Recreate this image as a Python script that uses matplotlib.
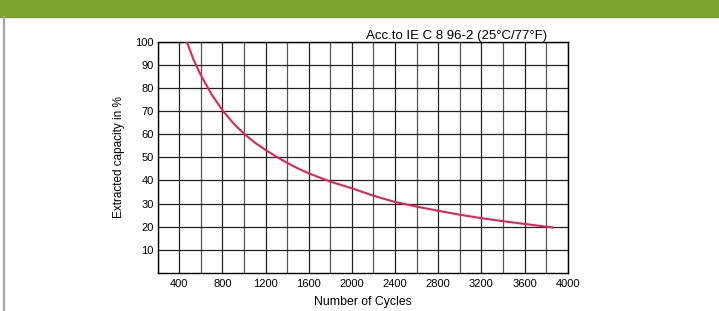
import matplotlib.pyplot as plt
from matplotlib.patches import Rectangle
from matplotlib.lines import Line2D

# === Dati ===
cycles = [470, 530, 600, 700, 800, 900, 1000, 1100, 1200, 1300, 1400, 1500,
          1600, 1800, 2000, 2200, 2400, 2600, 2800, 3000, 3200, 3400, 3600, 3855]
capacity = [100, 92.5, 85.5, 77.2, 70.4, 64.8, 60.2, 56.4, 53.2, 50.3, 47.6, 45.2,
            43.1, 39.5, 36.6, 33.4, 30.7, 28.7, 26.9, 25.2, 23.7, 22.4, 21.2, 19.7]
x_ticks = [400, 800, 1200, 1600, 2000, 2400, 2800, 3200, 3600, 4000]
y_ticks = [10, 20, 30, 40, 50, 60, 70, 80, 90, 100]

plt.rcParams["font.family"] = ["Liberation Sans", "DejaVu Sans"]

fig = plt.figure(figsize=(7.19, 3.11), dpi=100)

# banda verde in alto e bordo grigio a sinistra
fig.patches.append(Rectangle((0, 0.945), 1, 0.055, transform=fig.transFigure,
                             color="#7ba22f", zorder=0))
fig.lines.append(Line2D([0.0055, 0.0055], [0, 0.945], transform=fig.transFigure,
                        color="#a8a8a8", lw=1.6))

ax = fig.add_axes([0.2193, 0.1222, 0.5703, 0.7437])
ax.plot(cycles, capacity, color="#e0245a", lw=1.5, zorder=3)

ax.set_xlim(200, 4000)
ax.set_ylim(0, 100)
ax.set_xticks(x_ticks)
ax.set_yticks(y_ticks)
ax.set_xticks(range(200, 4001, 200), minor=True)
ax.grid(which="major", color="#222222", lw=0.9)
ax.grid(which="minor", axis="x", color="#555555", lw=0.9)
ax.tick_params(which="both", length=0, labelsize=8, pad=4.5)
ax.tick_params(axis="y", pad=3)
for s in ax.spines.values():
    s.set_linewidth(1.0)
    s.set_color("black")

ax.set_xlabel("Number of Cycles", fontsize=8.8, labelpad=5)
ax.set_ylabel("Extracted capacity in %", fontsize=8.5, labelpad=7)
ax.set_title("Acc.to IE C 8 96-2 (25°C/77°F)", fontsize=9.5, x=0.73, pad=2)

plt.savefig("out.png", dpi=100)
plt.close()
